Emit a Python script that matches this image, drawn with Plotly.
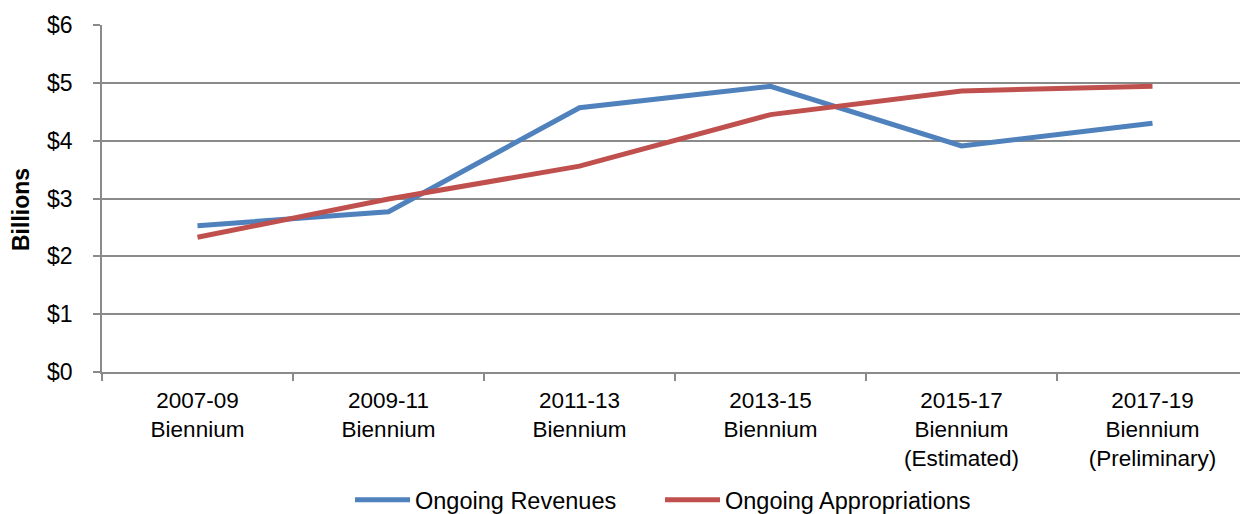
import plotly.graph_objects as go

categories = ["2007-09<br>Biennium", "2009-11<br>Biennium", "2011-13<br>Biennium",
              "2013-15<br>Biennium", "2015-17<br>Biennium<br>(Estimated)",
              "2017-19<br>Biennium<br>(Preliminary)"]
revenues = [2.53, 2.77, 4.57, 4.94, 3.91, 4.30]
appropriations = [2.33, 2.99, 3.56, 4.45, 4.86, 4.94]

FONT = "Liberation Sans, Arial, sans-serif"
GRID = "#8a8a8a"

# page body has an 8px default margin; the figure starts at (8, 8) on the page
W, H = 1240, 514
L, T, B = 94, 17, 150
PW, PH = W - L, H - T - B

fig = go.Figure()
fig.add_trace(go.Scatter(x=categories, y=revenues, mode="lines", name="Ongoing Revenues",
                         line=dict(color="#4F81BD", width=5)))
fig.add_trace(go.Scatter(x=categories, y=appropriations, mode="lines", name="Ongoing Appropriations",
                         line=dict(color="#C0504D", width=5)))

fig.update_layout(
    width=W, height=H,
    margin=dict(l=L, r=0, t=T, b=B, pad=0),
    plot_bgcolor="white", paper_bgcolor="white",
    font=dict(family=FONT, size=22, color="black"),
    showlegend=True,
    legend=dict(orientation="h", x=(342 - L) / PW, xanchor="left",
                y=-128 / PH, yanchor="middle",
                font=dict(size=23.5), itemwidth=55, traceorder="normal",
                entrywidth=240, entrywidthmode="pixels"),
    xaxis=dict(type="category", range=[-0.5, 5.5], showgrid=False, automargin=False,
               showline=True, linecolor=GRID, linewidth=1.5,
               ticks="outside", tickson="boundaries", ticklen=7, tickcolor=GRID, tickwidth=1.5,
               ticklabelstandoff=7, tickfont=dict(size=22.5)),
    yaxis=dict(range=[0, 6], dtick=1, tickprefix="$", showgrid=True, gridcolor=GRID, gridwidth=1.5,
               showline=True, linecolor=GRID, linewidth=1.5, zeroline=False, automargin=False,
               ticks="outside", ticklen=7, tickcolor=GRID, tickwidth=1.5,
               ticklabelstandoff=16, tickfont=dict(size=23)),
    annotations=[dict(text="<b>Billions</b>", textangle=-90, xref="paper", yref="paper",
                      x=(13 - L) / PW, y=(PH - 185) / PH, xanchor="center", yanchor="middle",
                      showarrow=False, font=dict(size=23))],
)

fig.write_html("out.html")
